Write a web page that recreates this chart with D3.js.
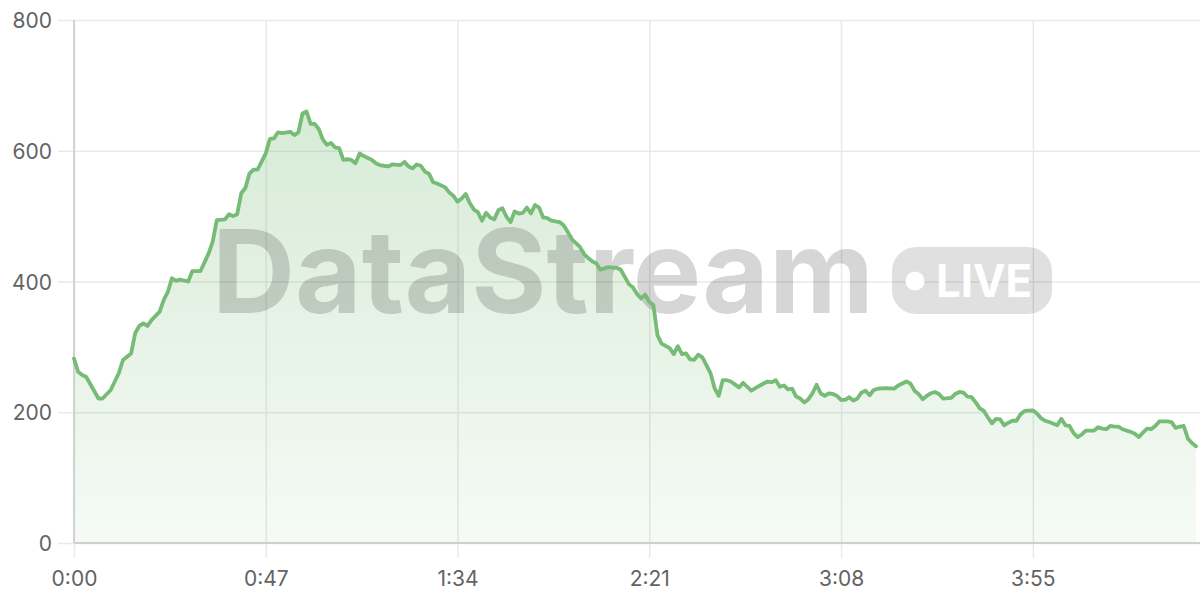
<!DOCTYPE html>
<html>
<head>
<meta charset="utf-8">
<script src="https://cdn.jsdelivr.net/npm/d3@7"></script>
<style>
  html, body { margin: 0; padding: 0; background: #fff; }
  #chart { width: 1200px; height: 600px; }
  text { font-family: Inter, "Noto Sans", sans-serif; }
</style>
</head>
<body>
<div id="chart"></div>
<script>
// ---- Data -------------------------------------------------------------------
// elapsed seconds of the stream
const seconds = [
  0, 1, 2, 3, 6, 7, 9, 11, 12, 14, 15, 16, 17, 18, 19, 21, 22, 23, 24, 25,
  26, 28, 29, 31, 33, 34, 35, 37, 38, 39, 40, 41, 42, 43, 44, 45, 47, 48, 49, 50,
  51, 53, 54, 55, 56, 57, 58, 59, 60, 61, 62, 63, 64, 65, 66, 67, 68, 69, 70, 71,
  73, 74, 75, 76, 77, 78, 80, 81, 82, 83, 84, 85, 86, 87, 88, 89, 91, 92, 93, 94,
  95, 96, 97, 98, 99, 100, 101, 102, 103, 104, 105, 106, 107, 108, 109, 110, 111, 112, 113, 114,
  115, 116, 117, 119, 120, 121, 122, 124, 125, 126, 127, 128, 129, 130, 131, 133, 134, 135, 136, 137,
  138, 139, 140, 141, 142, 143, 144, 146, 147, 148, 149, 150, 151, 152, 153, 154, 155, 156, 157, 158,
  159, 160, 161, 163, 164, 165, 166, 167, 169, 170, 171, 172, 173, 174, 175, 176, 177, 178, 179, 180,
  181, 182, 183, 184, 185, 186, 187, 188, 189, 190, 191, 192, 193, 194, 195, 196, 197, 199, 201, 202,
  204, 205, 206, 207, 208, 209, 210, 211, 212, 213, 215, 216, 217, 218, 219, 220, 221, 222, 223, 224,
  225, 226, 227, 228, 229, 230, 231, 232, 233, 235, 236, 237, 238, 239, 241, 242, 243, 244, 245, 246,
  247, 248, 250, 251, 252, 253, 254, 255, 256, 257, 259, 260, 261, 262, 263, 264, 265, 266, 268, 269,
  270, 271, 272, 273, 274, 275
];
// concurrent viewers at each second
const viewers = [
  282, 262, 257, 254, 221, 221, 234, 260, 280, 290, 321, 332, 336, 332, 341, 354, 372, 384, 405, 401,
  403, 400, 416, 416, 443, 461, 494, 495, 503, 500, 503, 535, 543, 565, 571, 571, 596, 618, 619, 628,
  627, 629, 624, 628, 657, 660, 641, 641, 633, 617, 609, 612, 605, 604, 586, 587, 586, 581, 596, 592,
  586, 581, 578, 577, 576, 579, 578, 583, 576, 573, 579, 577, 568, 565, 552, 550, 544, 536, 531, 522,
  527, 534, 520, 510, 506, 493, 505, 498, 495, 509, 512, 499, 491, 507, 504, 505, 513, 504, 517, 513,
  498, 497, 493, 491, 486, 476, 465, 453, 442, 436, 431, 428, 418, 420, 422, 421, 418, 407, 396, 391,
  381, 374, 380, 369, 364, 318, 305, 298, 289, 301, 289, 290, 281, 280, 288, 284, 272, 260, 237, 225,
  249, 249, 247, 238, 245, 239, 233, 237, 244, 247, 246, 249, 239, 241, 235, 236, 224, 221, 215, 220,
  229, 242, 229, 225, 229, 228, 225, 219, 219, 223, 218, 221, 230, 233, 226, 234, 236, 237, 236, 241,
  247, 244, 233, 228, 220, 225, 229, 231, 228, 221, 222, 228, 231, 230, 224, 223, 215, 206, 202, 192,
  183, 190, 189, 180, 184, 187, 187, 197, 202, 203, 198, 191, 187, 185, 180, 190, 180, 179, 168, 162,
  166, 172, 172, 177, 175, 174, 179, 178, 178, 174, 170, 167, 162, 169, 175, 174, 179, 186, 186, 185,
  176, 178, 179, 160, 153, 148
];
const xTicks = [0, 47, 94, 141, 188, 235];
const yTicks = [0, 200, 400, 600, 800];
const brandText = "DataStream";
const badgeText = "LIVE";

// ---- Layout -----------------------------------------------------------------
const width = 1200, height = 600;
const margin = { top: 20, right: 4, bottom: 57, left: 74 };
const lineColor = "#76bb76";

const fmtTime = (s) => `${Math.floor(s / 60)}:${String(s % 60).padStart(2, "0")}`;

const data = seconds.map((t, i) => ({ t, v: viewers[i] }));

const svg = d3.select("#chart").append("svg")
  .attr("width", width)
  .attr("height", height)
  .attr("viewBox", `0 0 ${width} ${height}`);

const x = d3.scaleLinear()
  .domain([0, 275])
  .range([margin.left, margin.left + 1122]);

const y = d3.scaleLinear()
  .domain([0, 800])
  .range([height - margin.bottom, margin.top]);

// gradient for the area
const defs = svg.append("defs");
const grad = defs.append("linearGradient")
  .attr("id", "area-grad")
  .attr("gradientUnits", "userSpaceOnUse")
  .attr("x1", 0).attr("x2", 0)
  .attr("y1", y(800)).attr("y2", y(0));
grad.append("stop").attr("offset", "0%").attr("stop-color", lineColor).attr("stop-opacity", 0.34);
grad.append("stop").attr("offset", "100%").attr("stop-color", lineColor).attr("stop-opacity", 0.07);

// grid (drawn through the axes so the tick stubs stick out)
const yAxis = d3.axisLeft(y)
  .tickValues(yTicks)
  .tickSize(-(width - margin.left) - 16)
  .tickPadding(6)
  .tickFormat(d3.format("d"));
svg.append("g")
  .attr("class", "y-axis")
  .attr("transform", `translate(${margin.left - 16},0)`)
  .call(yAxis)
  .call(g => g.select(".domain").remove())
  .call(g => g.selectAll(".tick line").attr("stroke", "#e9e9e9").attr("stroke-width", 1.5))
  .call(g => g.selectAll(".tick text")
    .attr("fill", "#636363").attr("font-size", 21).attr("dy", "0.36em"));

const xAxis = d3.axisBottom(x)
  .tickValues(xTicks)
  .tickSize(-(height - margin.top - margin.bottom) - 15)
  .tickPadding(13)
  .tickFormat(fmtTime);
svg.append("g")
  .attr("class", "x-axis")
  .attr("transform", `translate(0,${height - margin.bottom + 15})`)
  .call(xAxis)
  .call(g => g.select(".domain").remove())
  .call(g => g.selectAll(".tick line").attr("stroke", "#e9e9e9").attr("stroke-width", 1.5))
  .call(g => g.selectAll(".tick text")
    .attr("fill", "#636363").attr("font-size", 21).attr("dy", "0.71em"));

// area fill
const area = d3.area()
  .x(d => x(d.t))
  .y0(y(0))
  .y1(d => y(d.v));
svg.append("path")
  .datum(data)
  .attr("d", area)
  .attr("fill", "url(#area-grad)");

// axis lines
svg.append("line")
  .attr("x1", margin.left).attr("x2", margin.left)
  .attr("y1", y(800)).attr("y2", y(0))
  .attr("stroke", "#d2d2d2").attr("stroke-width", 2);
svg.append("line")
  .attr("x1", margin.left).attr("x2", width)
  .attr("y1", y(0)).attr("y2", y(0))
  .attr("stroke", "#cfcfcf").attr("stroke-width", 2);

// watermark
const wm = svg.append("g").attr("class", "watermark").attr("pointer-events", "none");
wm.append("text")
  .attr("x", 212)
  .attr("y", 313)
  .attr("font-size", 116)
  .attr("font-weight", 700)
  .attr("textLength", 662)
  .attr("lengthAdjust", "spacingAndGlyphs")
  .attr("fill", "#000")
  .attr("fill-opacity", 0.16)
  .text(brandText);
wm.append("rect")
  .attr("x", 892).attr("y", 247)
  .attr("width", 160).attr("height", 67)
  .attr("rx", 24)
  .attr("fill", "#000")
  .attr("fill-opacity", 0.12);
wm.append("circle")
  .attr("cx", 915).attr("cy", 281).attr("r", 9.5)
  .attr("fill", "#fff");
wm.append("text")
  .attr("x", 936)
  .attr("y", 297)
  .attr("font-size", 45)
  .attr("font-weight", 700)
  .attr("textLength", 96)
  .attr("lengthAdjust", "spacingAndGlyphs")
  .attr("fill", "#fff")
  .text(badgeText);

// line on top
const line = d3.line()
  .x(d => x(d.t))
  .y(d => y(d.v));
svg.append("path")
  .datum(data)
  .attr("d", line)
  .attr("fill", "none")
  .attr("stroke", lineColor)
  .attr("stroke-width", 3.8)
  .attr("stroke-linejoin", "round")
  .attr("stroke-linecap", "round");
</script>
</body>
</html>
